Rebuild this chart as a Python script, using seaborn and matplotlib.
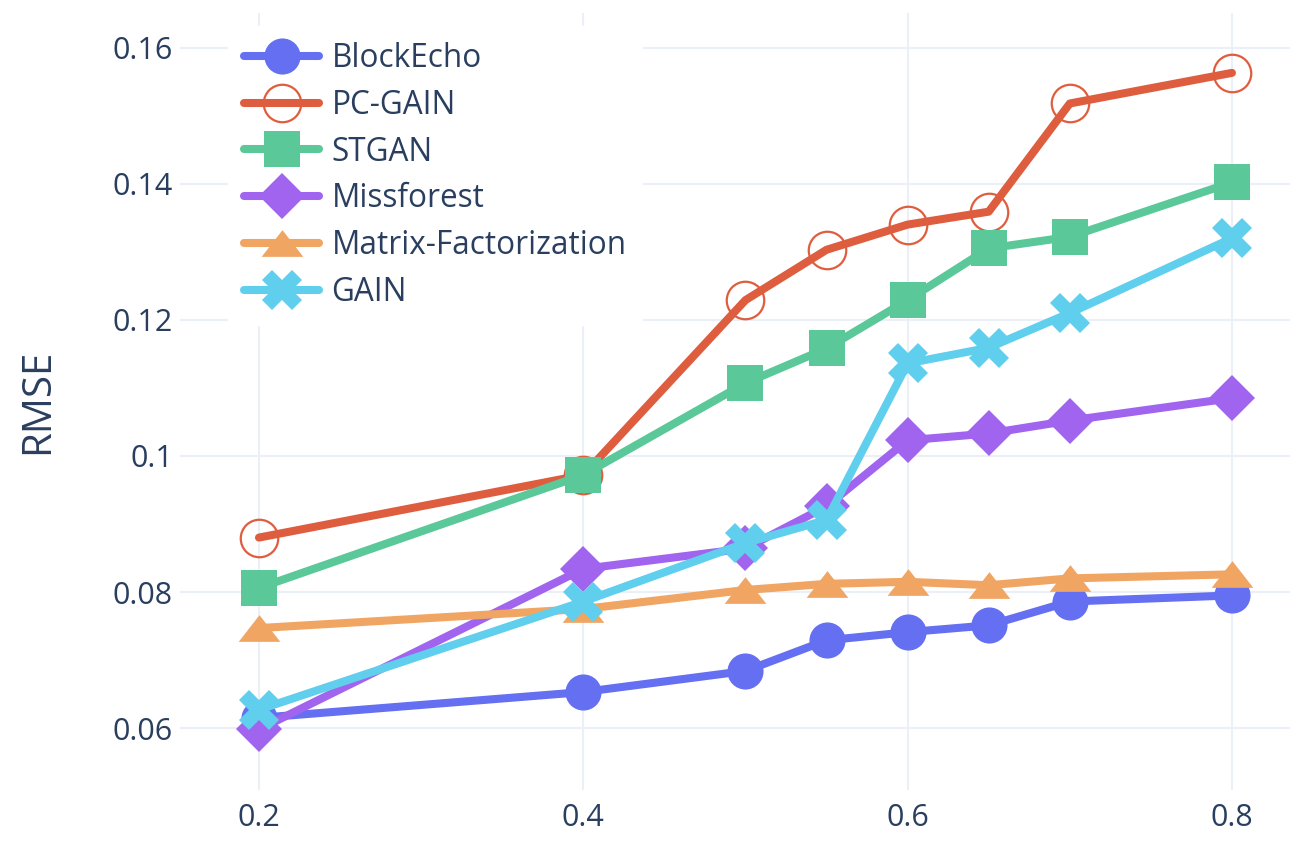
import matplotlib
matplotlib.use("Agg")
import matplotlib.pyplot as plt
import pandas as pd
import seaborn as sns

# missing rates on the x axis
missing_rate = [0.2, 0.4, 0.5, 0.55, 0.6, 0.65, 0.7, 0.8]

blockecho = [0.0615, 0.0653, 0.0684, 0.0729, 0.0741, 0.0751, 0.0786, 0.0795]
pc_gain = [0.0880, 0.0972, 0.1229, 0.1303, 0.1340, 0.1359, 0.1518, 0.1563]
stgan = [0.0806, 0.0972, 0.1107, 0.1158, 0.1229, 0.1305, 0.1322, 0.1402]
missforest = [0.0598, 0.0834, 0.0864, 0.0926, 0.1023, 0.1033, 0.1052, 0.1085]
matrix_fact = [0.0747, 0.0775, 0.0803, 0.0812, 0.0815, 0.0810, 0.0820, 0.0826]
gain = [0.0627, 0.0786, 0.0872, 0.0906, 0.1136, 0.1159, 0.1210, 0.1320]

series_names = ["BlockEcho", "PC-GAIN", "STGAN", "Missforest",
                "Matrix-Factorization", "GAIN"]
series_values = [blockecho, pc_gain, stgan, missforest, matrix_fact, gain]

x_ticks = [0.2, 0.4, 0.6, 0.8]
x_tick_labels = ["0.2", "0.4", "0.6", "0.8"]
y_ticks = [0.06, 0.08, 0.10, 0.12, 0.14, 0.16]
y_tick_labels = ["0.06", "0.08", "0.1", "0.12", "0.14", "0.16"]

COLORS = ["#646FF1", "#DE5D3F", "#5BC899", "#A064EE", "#F0A563", "#60CFEE"]
TEXT_COLOR = "#2a3f5f"
GRID_COLOR = "#EBF0F8"

# wide triangle like plotly's triangle-up
wide_triangle = [(-0.78, -0.5), (0.78, -0.5), (0.0, 0.5), (-0.78, -0.5)]

marker_styles = [
    dict(marker="o", markersize=26),
    dict(marker="o", markersize=27, markerfacecolor="none",
         markeredgewidth=1.6),
    dict(marker="s", markersize=26),
    dict(marker="D", markersize=23),
    dict(marker=wide_triangle, markersize=30),
    dict(marker="X", markersize=29),
]

sns.set_theme(style="white")
plt.rcParams["font.family"] = ["Open Sans", "DejaVu Sans"]

fig = plt.figure(figsize=(12.9, 8.64), dpi=100)
ax = fig.add_axes([180 / 1290, 1 - 790 / 864, 1 - 180 / 1290, (790 - 13) / 864])

for name, values, color, style in zip(series_names, series_values, COLORS, marker_styles):
    df = pd.DataFrame({"x": missing_rate, "y": values})
    kw = dict(markeredgecolor=color, markeredgewidth=0)
    kw.update(style)
    sns.lineplot(data=df, x="x", y="y", ax=ax, color=color, linewidth=5.8,
                 label=name, **kw)

ax.set_xlim(0.1513, 0.8358)
ax.set_ylim(0.0509, 0.1651)
ax.set_xticks(x_ticks)
ax.set_xticklabels(x_tick_labels)
ax.set_yticks(y_ticks)
ax.set_yticklabels(y_tick_labels)
ax.set_xlabel("")
ax.set_ylabel("")
ax.grid(True, color=GRID_COLOR, linewidth=1.5)
ax.set_axisbelow(True)
for s in ax.spines.values():
    s.set_visible(False)
ax.tick_params(axis="both", length=0, labelsize=22, labelcolor=TEXT_COLOR)
ax.tick_params(axis="y", pad=5)
ax.tick_params(axis="x", pad=9)

ax.text((38 - 180) / 1110, 0.5, "RMSE", rotation=90, ha="center", va="center",
        transform=ax.transAxes, fontsize=29, color=TEXT_COLOR)

leg = ax.legend(loc="upper left", bbox_to_anchor=(228 / 1290, 1 - 26 / 864),
                bbox_transform=fig.transFigure, borderaxespad=0,
                frameon=True, fancybox=False, framealpha=1.0,
                edgecolor="white", facecolor="white",
                fontsize=22.7, handlelength=2.4, handletextpad=0.38,
                labelspacing=0.44, borderpad=0.5)
for t in leg.get_texts():
    t.set_color(TEXT_COLOR)

fig.savefig("out.png", dpi=100, facecolor="white")
